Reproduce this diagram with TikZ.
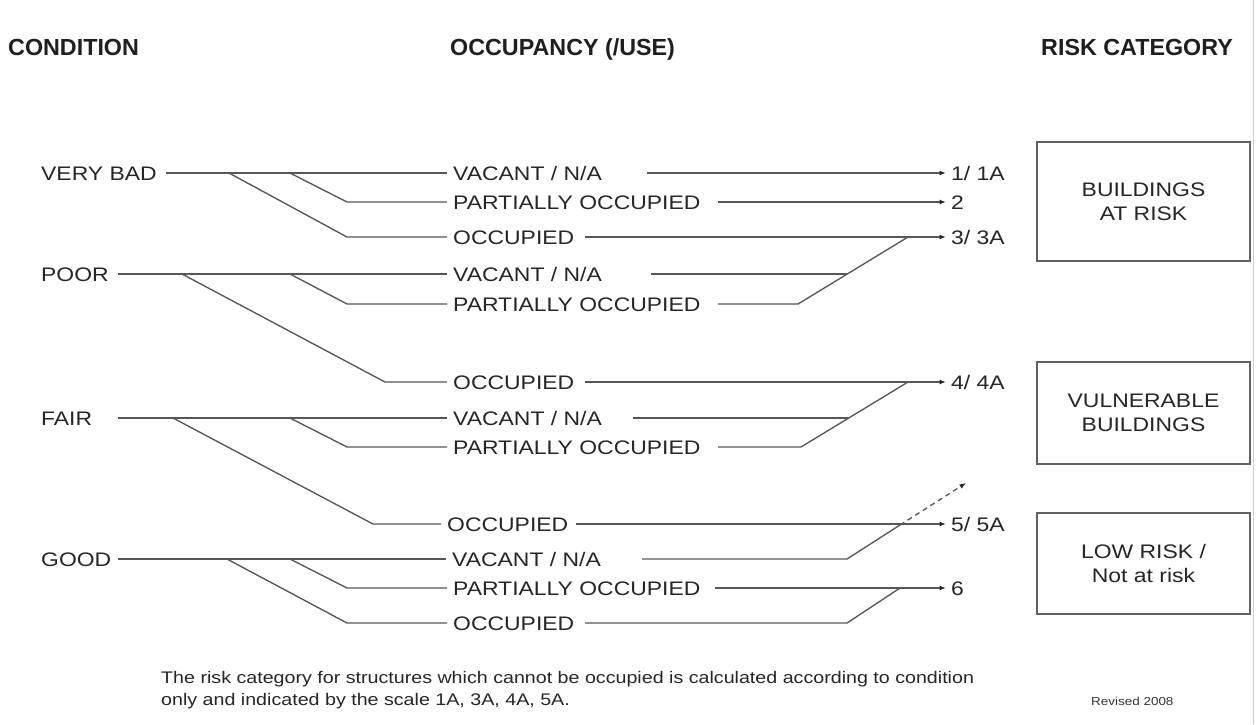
\documentclass[tikz,border=0pt]{standalone}
\usepackage{fontspec}
\setmainfont{Liberation Sans}
\newfontfamily\widefont{Liberation Sans}[FakeStretch=1.17]
\usetikzlibrary{arrows.meta}
\tikzset{
  hdr/.style={anchor=west, inner sep=0pt, text height=16.7pt, text depth=0pt, text=black!88,
    font=\bfseries\fontsize{23.3}{28}\selectfont},
  lbl/.style={anchor=west, inner sep=0pt, text height=14pt, text depth=0pt, text=black!85,
    font=\widefont\fontsize{19.6}{24}\selectfont},
  tgt/.style={lbl, inner xsep=5pt},
  ln/.style={draw=black!66, line width=1.35pt},
  arr/.style={-{Latex[length=6.5pt,width=5pt,color=black!85]}},
  dsh/.style={dash pattern=on 5pt off 4pt},
  riskbox/.style={draw=black!62, line width=1.3pt, minimum width=213pt, inner sep=0pt,
    align=center, text=black!85, font=\widefont\fontsize{19.6}{24}\selectfont},
  ftr/.style={anchor=west, inner sep=0pt, text height=12pt, text depth=0pt, text=black!85,
    font=\widefont\fontsize{16.8}{20}\selectfont},
  rev/.style={anchor=west, inner sep=0pt, text height=8pt, text depth=0pt, text=black!80,
    font=\widefont\fontsize{11.5}{14}\selectfont}
}
\begin{document}
\begin{tikzpicture}[x=1pt,y=-1pt]
\useasboundingbox (0,0) rectangle (1257,724);
\fill[white] (0,0) rectangle (1257,724);
\draw[black!20, line width=1pt] (1253,0) -- (1253,724);

% headers
\node[hdr] (hC) at (8,47) {CONDITION};
\node[hdr] (hO) at (450,47) {OCCUPANCY (/USE)};
\node[hdr] (hR) at (1041,47) {RISK CATEGORY};

% conditions
\node[lbl] (cVB) at (41,173) {VERY BAD};
\node[lbl] (cP) at (41,274) {POOR};
\node[lbl] (cF) at (41,418) {FAIR};
\node[lbl] (cG) at (41,559) {GOOD};

% occupancy
\node[lbl] (m1v) at (453,173) {VACANT / N/A};
\node[lbl] (m1p) at (453,202) {PARTIALLY OCCUPIED};
\node[lbl] (m1o) at (453,237) {OCCUPIED};
\node[lbl] (m2v) at (453,274) {VACANT / N/A};
\node[lbl] (m2p) at (453,304) {PARTIALLY OCCUPIED};
\node[lbl] (m2o) at (453,382) {OCCUPIED};
\node[lbl] (m3v) at (453,418) {VACANT / N/A};
\node[lbl] (m3p) at (453,447) {PARTIALLY OCCUPIED};
\node[lbl] (m3o) at (447,524) {OCCUPIED};
\node[lbl] (m4v) at (452,559) {VACANT / N/A};
\node[lbl] (m4p) at (453,588) {PARTIALLY OCCUPIED};
\node[lbl] (m4o) at (453,623) {OCCUPIED};

% risk values
\node[tgt] (r1) at (946,173) {1/ 1A};
\node[tgt] (r2) at (946,202) {2};
\node[tgt] (r3) at (946,237) {3/ 3A};
\node[tgt] (r4) at (946,382) {4/ 4A};
\node[tgt] (r5) at (946,524) {5/ 5A};
\node[tgt] (r6) at (946,588) {6};

% risk boxes
\node[riskbox, minimum height=119pt] (bxA) at (1143.5,201.5) {BUILDINGS\\AT RISK};
\node[riskbox, minimum height=102pt] (bxB) at (1143.5,413) {VULNERABLE\\BUILDINGS};
\node[riskbox, minimum height=101pt] (bxC) at (1143.5,563.5) {LOW RISK /\\Not at risk};

% ---- left branches
% VERY BAD
\coordinate (a1) at (229,173); \coordinate (b1) at (290,173);
\coordinate (p1) at (347,202); \coordinate (o1) at (347,237);
\draw[ln] (cVB.east -| 166,0) -- ([xshift=-6pt]m1v.west);
\draw[ln] (b1) -- (p1) -- ([xshift=-6pt]m1p.west);
\draw[ln] (a1) -- (o1) -- ([xshift=-6pt]m1o.west);
% POOR
\coordinate (a2) at (182,274); \coordinate (b2) at (290,274);
\coordinate (p2) at (347,304); \coordinate (o2) at (385,382);
\draw[ln] (cP.east -| 118,0) -- ([xshift=-6pt]m2v.west);
\draw[ln] (b2) -- (p2) -- ([xshift=-6pt]m2p.west);
\draw[ln] (a2) -- (o2) -- ([xshift=-6pt]m2o.west);
% FAIR
\coordinate (a3) at (173,418); \coordinate (b3) at (290,418);
\coordinate (p3) at (347,447); \coordinate (o3) at (373,524);
\draw[ln] (cF.east -| 118,0) -- ([xshift=-6pt]m3v.west);
\draw[ln] (b3) -- (p3) -- ([xshift=-6pt]m3p.west);
\draw[ln] (a3) -- (o3) -- ([xshift=-6pt]m3o.west);
% GOOD
\coordinate (a4) at (227,559); \coordinate (b4) at (290,559);
\coordinate (p4) at (347,588); \coordinate (o4) at (347,623);
\draw[ln] (cG.east -| 118,0) -- ([xshift=-6pt]m4v.west);
\draw[ln] (b4) -- (p4) -- ([xshift=-6pt]m4p.west);
\draw[ln] (a4) -- (o4) -- ([xshift=-6pt]m4o.west);

% ---- right side
\draw[ln,arr] (m1v.east -| 647,0) -- (r1.west);
\draw[ln,arr] (m1p.east -| 718,0) -- (r2.west);
\draw[ln,arr] (m1o.east -| 585,0) -- (r3.west);

\coordinate (d3) at (908,237); \coordinate (e3) at (798,304); \coordinate (q2) at (847,274);
\draw[ln] (m2v.east -| 651,0) -- (q2);
\draw[ln] (m2p.east -| 718,0) -- (e3) -- (d3);
\draw[ln,arr] (m2o.east -| 585,0) -- (r4.west);

\coordinate (d4) at (908,382); \coordinate (e4) at (801,447); \coordinate (q3) at (849,418);
\draw[ln] (m3v.east -| 633,0) -- (q3);
\draw[ln] (m3p.east -| 718,0) -- (e4) -- (d4);
\draw[ln,arr] (m3o.east -| 576,0) -- (r5.west);

\coordinate (e5) at (847,559); \coordinate (d5) at (900,525); \coordinate (u5) at (966,483);
\draw[ln] (m4v.east -| 642,0) -- (e5) -- (d5);
\draw[ln,dsh,arr] (d5) -- (u5);
\draw[ln,arr] (m4p.east -| 715,0) -- (r6.west);
\coordinate (e6) at (847,623); \coordinate (d6) at (900,588);
\draw[ln] (m4o.east -| 585,0) -- (e6) -- (d6);

% footer
\node[ftr] (f1) at (161,677) {The risk category for structures which cannot be occupied is calculated according to condition};
\node[ftr] (f2) at (161,699) {only and indicated by the scale 1A, 3A, 4A, 5A.};
\node[rev] (rv) at (1091,701) {Revised 2008};
\end{tikzpicture}
\end{document}
